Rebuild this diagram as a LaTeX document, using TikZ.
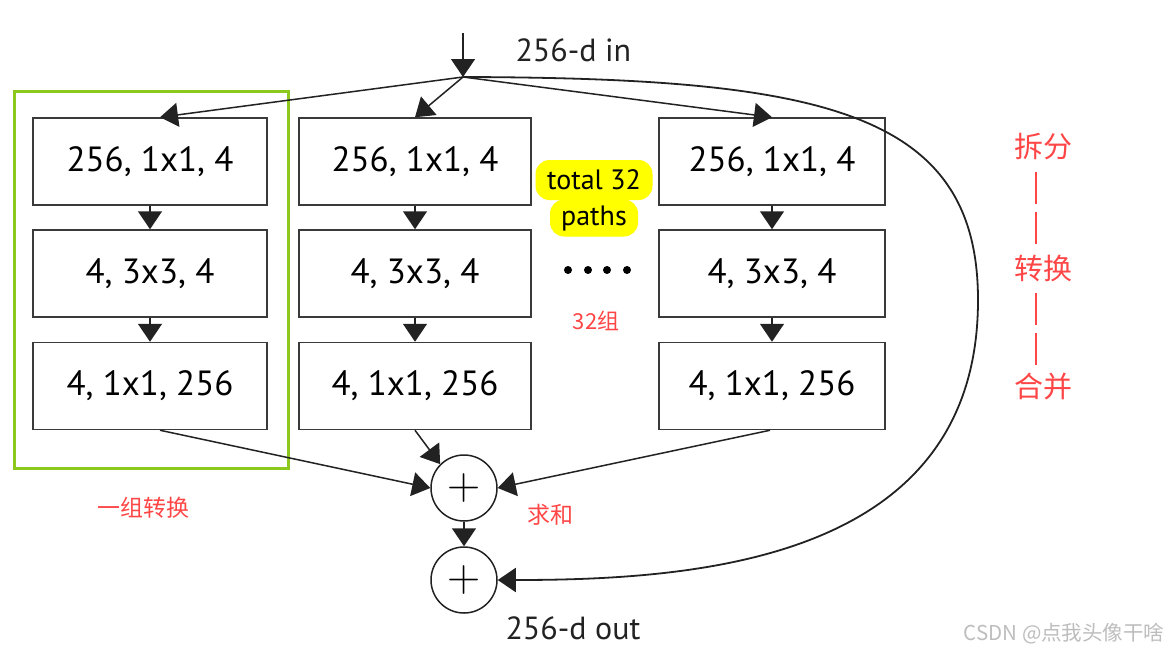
\documentclass[tikz,border=0pt]{standalone}
\usepackage{fontspec}
\setmainfont{PT Sans}
\newfontfamily\cjk{Noto Sans CJK SC}
\newfontfamily\lmr{Latin Modern Roman}
\usetikzlibrary{arrows.meta}
\definecolor{ink}{HTML}{222222}
\definecolor{boxline}{HTML}{3A3A3A}
\definecolor{grp}{HTML}{8DC81E}
\definecolor{note}{HTML}{FF4646}
\definecolor{hl}{HTML}{FFFF00}
\definecolor{wm}{HTML}{BDBDBD}
\begin{document}
\begin{tikzpicture}[x=1pt,y=-1pt,
  blk/.style={draw=boxline, line width=1.5pt, minimum height=87pt, inner sep=0pt, font=\fontsize{35}{40}\selectfont},
  arr/.style={draw=ink, line width=1.5pt, -{Triangle[length=18pt,width=24pt]}},
  sumnode/.style={circle, draw=ink, line width=1.5pt, minimum size=66pt, inner sep=0pt, font=\lmr\fontsize{46}{46}\selectfont},
  rednote/.style={text=note, font=\cjk\fontsize{#1}{#1}\selectfont},
  hlbox/.style={fill=hl, rounded corners=14pt, inner sep=0pt, font=\fontsize{28}{30}\selectfont},
  lbl/.style={font=\fontsize{32}{36}\selectfont, text=ink}]
\useasboundingbox (0,0) rectangle (1172,654);
\fill[white] (0,0) rectangle (1172,654);

% group frame
\draw[grp, line width=3pt] (14,91) rectangle (288,468);

% blocks
\node[blk, minimum width=234pt] (a1) at (150,161.5) {256, 1x1, 4};
\node[blk, minimum width=234pt] (b1) at (150,273.5) {4, 3x3, 4};
\node[blk, minimum width=234pt] (c1) at (150,386) {4, 1x1, 256};
\node[blk, minimum width=232pt] (a2) at (415,161.5) {256, 1x1, 4};
\node[blk, minimum width=232pt] (b2) at (415,273.5) {4, 3x3, 4};
\node[blk, minimum width=232pt] (c2) at (415,386) {4, 1x1, 256};
\node[blk, minimum width=226pt] (a3) at (772,161.5) {256, 1x1, 4};
\node[blk, minimum width=226pt] (b3) at (772,273.5) {4, 3x3, 4};
\node[blk, minimum width=226pt] (c3) at (772,386) {4, 1x1, 256};

% sums
\node[sumnode] (s1) at (464,488) {+};
\node[sumnode] (s2) at (464,580) {+};

% input
\coordinate (in) at (463,33);
\coordinate (J) at (463,77);
\node[lbl, anchor=west] (inl) at (512,50) {256-d in};
\node[lbl, anchor=west] (outl) at (502,628) {256-d out};

\draw[arr] (in) -- (J);
\draw[arr] (J) -- ([xshift=10pt]a1.north);
\draw[arr] (J) -- (a2.north);
\draw[arr] (J) -- (a3.north);

\draw[arr] (a1) -- (b1);
\draw[arr] (b1) -- (c1);
\draw[arr] (a2) -- (b2);
\draw[arr] (b2) -- (c2);
\draw[arr] (a3) -- (b3);
\draw[arr] (b3) -- (c3);

\draw[arr] ([xshift=10pt]c1.south) -- (s1.west);
\draw[arr] (c2.south) -- (s1.north west);
\draw[arr] ([xshift=-2pt]c3.south) -- (s1.east);
\draw[arr] (s1) -- (s2);

% identity bypass
\draw[arr, line width=1.8pt] (J) .. controls (820,78) and (978,110) .. (978,300)
  .. controls (978,560) and (700,580) .. (s2.east);

% total 32 paths
\node[hlbox, minimum width=117pt, minimum height=40pt] (t1) at (594,180) {total 32};
\node[hlbox, minimum width=88pt, minimum height=37pt] (t2) at (594,218) {paths};

% dots
\foreach \xx in {568,588,607,627} {
  \fill[black] (\xx,270) circle (4pt);
}
\node[rednote=22] (g32) at (596,321) {32组};

% right side notes
\node[rednote=29] (n1) at (1043,147) {拆分};
\node[rednote=29] (n2) at (1043,268) {转换};
\node[rednote=29] (n3) at (1043,387) {合并};
\draw[note, line width=2.6pt, dash pattern=on 32pt off 8pt] (1036,172) -- (1036,245);
\draw[note, line width=2.6pt, dash pattern=on 32pt off 8pt] (1036,293) -- (1036,367);

\node[rednote=23] (grpl) at (143,508) {一组转换};
\node[rednote=23] (suml) at (550,515) {求和};

\node[text=wm, font=\cjk\fontsize{20.5}{21}\selectfont, anchor=east] (wmk) at (1168,634) {CSDN @点我头像干啥};
\end{tikzpicture}
\end{document}
